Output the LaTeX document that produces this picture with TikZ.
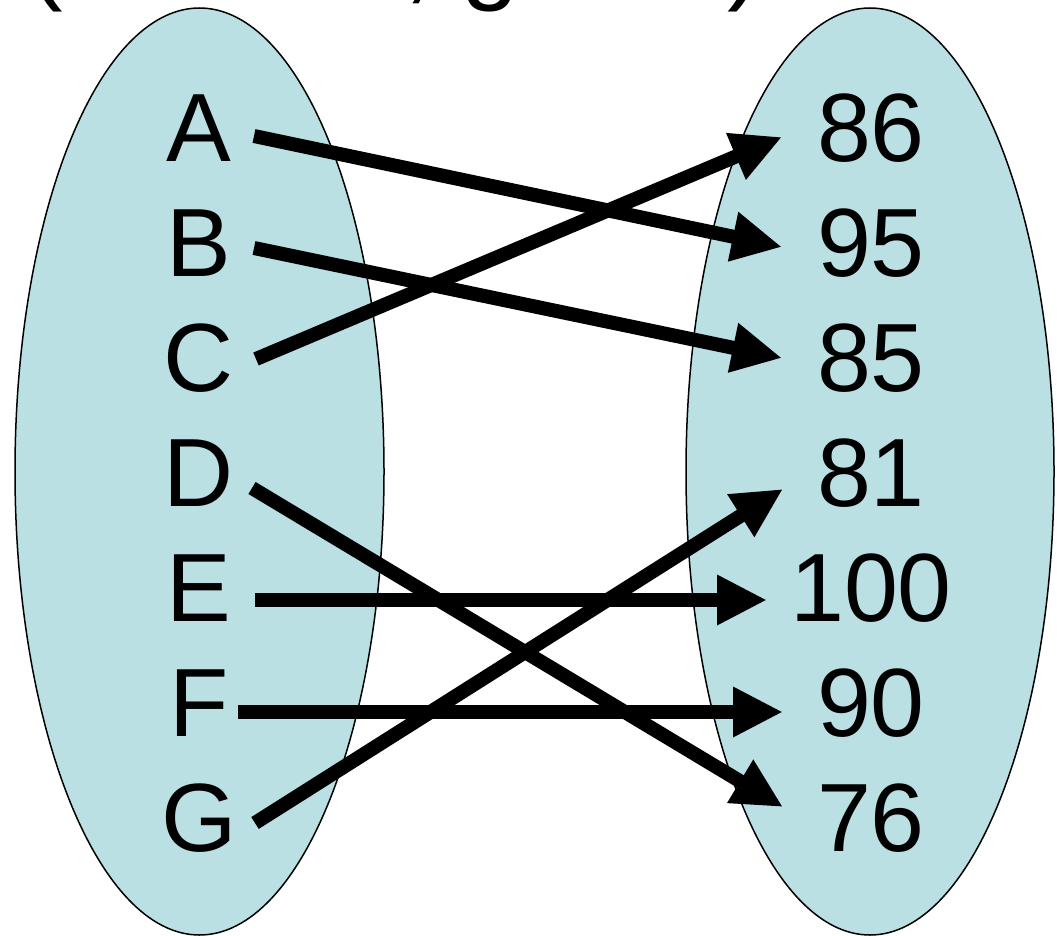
\documentclass[tikz,border=0pt]{standalone}
\usepackage{fontspec}
\setmainfont{Liberation Sans}
\usetikzlibrary{arrows.meta}
\definecolor{setfill}{RGB}{186,224,228}
\tikzset{
  setshape/.style={fill=setfill, draw=black, line width=1.5pt},
  lbl/.style={inner sep=0pt, anchor=center, font=\fontsize{97}{110}\selectfont},
  arr/.style={line width=14pt, -{Triangle[length=50pt,width=47pt]}},
  ttl/.style={inner sep=0pt, anchor=base west, font=\fontsize{104}{120}\selectfont}
}
\begin{document}
\begin{tikzpicture}[x=1pt,y=-1pt]
\useasboundingbox (0,0) rectangle (1057,936);
\clip (0,0) rectangle (1057,936);
\node[ttl] (title) at (28,-9) {(student, grade)};
\path[setshape] (199.5,471.5) ellipse [x radius=184.5, y radius=463.5];
\path[setshape] (870,471.5) ellipse [x radius=184, y radius=463.5];
% domain
\node[lbl] (A) at (199,128) {A};
\node[lbl] (B) at (199,243) {B};
\node[lbl] (C) at (199,358) {C};
\node[lbl] (D) at (199,473) {D};
\node[lbl] (E) at (199,588) {E};
\node[lbl] (F) at (199,703) {F};
\node[lbl] (G) at (199,818) {G};
% range
\node[lbl] (n86) at (871,128) {86};
\node[lbl] (n95) at (871,243) {95};
\node[lbl] (n85) at (871,358) {85};
\node[lbl] (n81) at (871,473) {81};
\node[lbl] (n100) at (871,588) {100};
\node[lbl] (n90) at (871,703) {90};
\node[lbl] (n76) at (871,818) {76};
% mapping
\draw[arr] ([shift={(55,8)}]A.center) -- ([shift={(-89,4)}]n95.center);
\draw[arr] ([shift={(55,5)}]B.center) -- ([shift={(-89,0)}]n85.center);
\draw[arr] ([shift={(57,1)}]C.center) -- ([shift={(-89,9)}]n86.center);
\draw[arr] ([shift={(53,15)}]D.center) -- ([shift={(-88,-11)}]n76.center);
\draw[arr] ([shift={(56,12)}]E.center) -- ([shift={(-104,12)}]n100.center);
\draw[arr] ([shift={(39,9)}]F.center) -- ([shift={(-88,9)}]n90.center);
\draw[arr] ([shift={(56,5)}]G.center) -- ([shift={(-88,16)}]n81.center);
\end{tikzpicture}
\end{document}
